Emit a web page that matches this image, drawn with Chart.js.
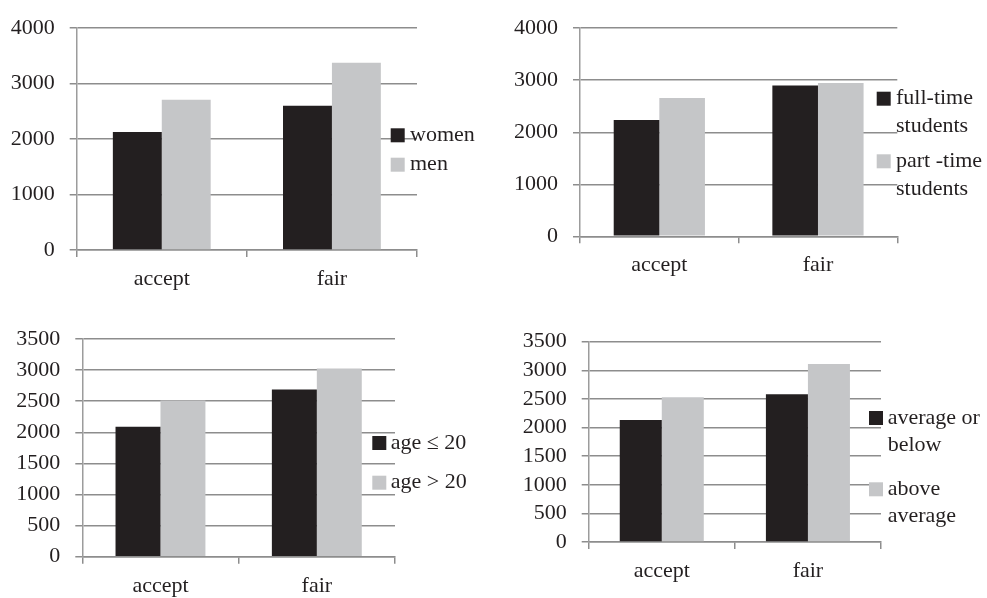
<!DOCTYPE html>
<html>
<head>
<meta charset="utf-8">
<script src="https://cdn.jsdelivr.net/npm/chart.js@4.4.0/dist/chart.umd.min.js"></script>
<style>
  html, body { margin: 0; padding: 0; background: #ffffff; }
  body { width: 987px; height: 598px; position: relative; overflow: hidden; }
  canvas { position: absolute; }
</style>
</head>
<body>
<canvas id="c1"></canvas>
<canvas id="c2"></canvas>
<canvas id="c3"></canvas>
<canvas id="c4"></canvas>
<script>
// Shared categories
const categories = ['accept', 'fair'];

// Panel 1: gender
const genderLegend = [['women'], ['men']];
const womenValues = [2130, 2600];
const menValues = [2710, 3375];

// Panel 2: study mode
const studyLegend = [['full-time', 'students'], ['part -time', 'students']];
const fullTimeValues = [2235, 2900];
const partTimeValues = [2660, 2945];

// Panel 3: age
const ageLegend = [['age \u2264 20'], ['age > 20']];
const ageUpTo20Values = [2090, 2690];
const ageOver20Values = [2510, 3025];

// Panel 4: grade
const gradeLegend = [['average or', 'below'], ['above', 'average']];
const averageOrBelowValues = [2130, 2580];
const aboveAverageValues = [2530, 3110];

// Axis ranges
const axisMaxTop = 4000, axisStepTop = 1000;
const axisMaxBottom = 3500, axisStepBottom = 500;

const DARK = '#231f20';
const LIGHT = '#c5c6c8';
const GRID = '#8d8d8d';
const AXIS = '#9c9c9c';
const TEXT = '#231f20';
const FONT_FAMILY = '"Liberation Serif", "Times New Roman", serif';
const FONT_SIZE = 22;

Chart.defaults.font.family = FONT_FAMILY;
Chart.defaults.font.size = FONT_SIZE;
Chart.defaults.color = TEXT;

// Legend drawn at the right side of each panel, overlapping the plot
const sideLegend = {
  id: 'sideLegend',
  afterDraw(chart, args, opts) {
    const ctx = chart.ctx;
    ctx.save();
    ctx.font = FONT_SIZE + 'px ' + FONT_FAMILY;
    ctx.textBaseline = 'middle';
    ctx.textAlign = 'left';
    chart.data.datasets.forEach((ds, i) => {
      const top = opts.top + i * opts.gap;
      ctx.fillStyle = ds.backgroundColor;
      ctx.fillRect(opts.boxX, top, opts.box, opts.box);
      ctx.fillStyle = TEXT;
      ds.legendLines.forEach((line, j) => {
        ctx.fillText(line, opts.textX, top + opts.box / 2 + j * opts.lineHeight);
      });
    });
    ctx.restore();
  }
};

const panels = [
  { id: 'c1', x: 0, y: 0, w: 490, h: 300,
    area: { l: 76.7, t: 19, r: 417, b: 250 },
    max: axisMaxTop, step: axisStepTop,
    series: [womenValues, menValues], legend: genderLegend,
    leg: { boxX: 390.7, top: 128.3, gap: 29.4, textX: 410, lineHeight: 27.7 } },
  { id: 'c2', x: 490, y: 0, w: 497, h: 300,
    area: { l: 580, t: 24, r: 897.3, b: 236.3 },
    max: axisMaxTop, step: axisStepTop,
    series: [fullTimeValues, partTimeValues], legend: studyLegend,
    leg: { boxX: 876.7, top: 91.7, gap: 62.6, textX: 896, lineHeight: 27.7 } },
  { id: 'c3', x: 0, y: 300, w: 490, h: 298,
    area: { l: 82.3, t: 339, r: 395, b: 556.7 },
    max: axisMaxBottom, step: axisStepBottom,
    series: [ageUpTo20Values, ageOver20Values], legend: ageLegend,
    leg: { boxX: 372.3, top: 436, gap: 39.7, textX: 390.7, lineHeight: 27.7 } },
  { id: 'c4', x: 490, y: 300, w: 497, h: 298,
    area: { l: 588.7, t: 341.7, r: 881, b: 542 },
    max: axisMaxBottom, step: axisStepBottom,
    series: [averageOrBelowValues, aboveAverageValues], legend: gradeLegend,
    leg: { boxX: 869, top: 411, gap: 71.3, textX: 887.7, lineHeight: 27 } }
];

panels.forEach(p => {
  const canvas = document.getElementById(p.id);
  canvas.width = p.w;
  canvas.height = p.h;
  canvas.style.left = p.x + 'px';
  canvas.style.top = p.y + 'px';
  canvas.style.width = p.w + 'px';
  canvas.style.height = p.h + 'px';

  const colors = [DARK, LIGHT];
  new Chart(canvas, {
    type: 'bar',
    data: {
      labels: categories,
      datasets: p.series.map((vals, i) => ({
        label: p.legend[i].join(' '),
        legendLines: p.legend[i],
        data: vals,
        backgroundColor: colors[i],
        borderWidth: 0,
        categoryPercentage: 0.575,
        barPercentage: 1.0
      }))
    },
    options: {
      responsive: false,
      animation: false,
      devicePixelRatio: 1,
      layout: {
        padding: { left: 0, top: p.area.t - p.y, right: p.x + p.w - p.area.r, bottom: 0 }
      },
      plugins: {
        legend: { display: false },
        tooltip: { enabled: false },
        sideLegend: {
          boxX: p.leg.boxX - p.x, top: p.leg.top - p.y, gap: p.leg.gap,
          textX: p.leg.textX - p.x, lineHeight: p.leg.lineHeight, box: 14
        }
      },
      scales: {
        x: {
          grid: { display: true, drawOnChartArea: false, drawTicks: true, tickLength: 7, color: GRID, lineWidth: 1.5, offset: true },
          border: { display: true, color: GRID, width: 1.5 },
          ticks: { padding: 9, color: TEXT, font: { size: FONT_SIZE } },
          afterFit(scale) { scale.height = p.y + p.h - p.area.b; }
        },
        y: {
          min: 0, max: p.max,
          grid: { color: GRID, lineWidth: 1.5, tickLength: 7, drawTicks: true },
          border: { display: true, color: AXIS, width: 1.5 },
          ticks: { stepSize: p.step, padding: 15, color: TEXT, font: { size: FONT_SIZE },
                   autoSkip: false, callback: v => String(v) },
          afterFit(scale) { scale.width = p.area.l - p.x; }
        }
      }
    },
    plugins: [sideLegend]
  });
});
</script>
</body>
</html>
